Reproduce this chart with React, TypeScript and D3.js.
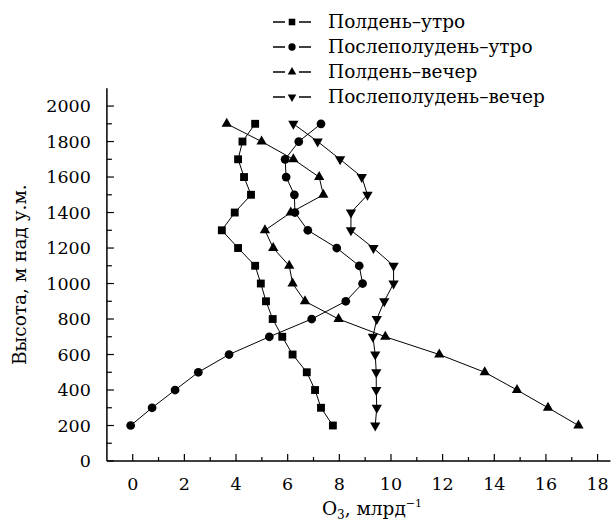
import React from 'react';
import * as d3 from 'd3';

// высоты, м (снизу вверх)
const heights = [200, 300, 400, 500, 600, 700, 800, 900, 1000, 1100, 1200, 1300, 1400, 1500, 1600, 1700, 1800, 1900];

// O3, млрд^-1
const noonMorning = [7.75, 7.29, 7.06, 6.74, 6.19, 5.79, 5.42, 5.16, 4.96, 4.74, 4.08, 3.45, 3.95, 4.58, 4.31, 4.08, 4.25, 4.74];
const afternoonMorning = [-0.08, 0.75, 1.64, 2.54, 3.73, 5.29, 6.93, 8.25, 8.9, 8.77, 7.9, 6.78, 6.28, 6.26, 5.94, 5.9, 6.43, 7.29];
const noonEvening = [17.26, 16.08, 14.88, 13.63, 11.87, 9.78, 7.97, 6.67, 6.19, 6.06, 5.44, 5.12, 6.12, 7.38, 7.22, 6.22, 4.99, 3.64];
const afternoonEvening = [9.39, 9.45, 9.43, 9.43, 9.39, 9.3, 9.45, 9.74, 10.1, 10.1, 9.32, 8.45, 8.45, 9.09, 8.87, 8.03, 7.16, 6.22];

const seriesNames = ['Полдень–утро', 'Послеполудень–утро', 'Полдень–вечер', 'Послеполудень–вечер'];
const xTicks = [0, 2, 4, 6, 8, 10, 12, 14, 16, 18];
const xMinor = [1, 3, 5, 7, 9, 11, 13, 15, 17];
const yTicks = [0, 200, 400, 600, 800, 1000, 1200, 1400, 1600, 1800, 2000];
const yMinor = [100, 300, 500, 700, 900, 1100, 1300, 1500, 1700, 1900];

const W = 612;
const H = 522;
const FONT = '"DejaVu Serif", serif';

export default function App() {
  const x = d3.scaleLinear().domain([-1, 18.5]).range([106.9, 610.5]);
  const y = d3.scaleLinear().domain([0, 2100]).range([461, 88.3]);

  const series = [
    { name: seriesNames[0], values: noonMorning, shape: d3.symbolSquare, size: 62, rot: 0 },
    { name: seriesNames[1], values: afternoonMorning, shape: d3.symbolCircle, size: 60, rot: 0 },
    { name: seriesNames[2], values: noonEvening, shape: d3.symbolTriangle, size: 46, rot: 0 },
    { name: seriesNames[3], values: afternoonEvening, shape: d3.symbolTriangle, size: 46, rot: 180 },
  ];

  const line = d3.line<number>()
    .x(d => x(d))
    .y((d, i) => y(heights[i]));

  const x0 = x.range()[0];
  const y0 = y(0);

  return (
    <svg width={W} height={H} style={{ position: 'absolute', left: 0, top: 0, background: '#fff' }}
      fontFamily={FONT}>
      <rect width={W} height={H} fill="#fff" />

      {/* оси */}
      <line x1={x0} x2={x.range()[1]} y1={y0} y2={y0} stroke="#000" strokeWidth={1.5} />
      <line x1={x0} x2={x0} y1={y0} y2={y.range()[1]} stroke="#000" strokeWidth={1.5} />

      {xTicks.map(t => (
        <g key={'xt' + t}>
          <line x1={x(t)} x2={x(t)} y1={y0} y2={y0 - 7} stroke="#000" strokeWidth={1.2} />
          <text x={x(t)} y={y0 + 29} textAnchor="middle" fontSize={17.5}>{t}</text>
        </g>
      ))}
      {xMinor.map(t => (
        <line key={'xm' + t} x1={x(t)} x2={x(t)} y1={y0} y2={y0 - 4} stroke="#000" strokeWidth={1.2} />
      ))}
      {yTicks.map(t => (
        <g key={'yt' + t}>
          <line x1={x0} x2={x0 + 7} y1={y(t)} y2={y(t)} stroke="#000" strokeWidth={1.2} />
          <text x={x0 - 16} y={y(t) + 6} textAnchor="end" fontSize={17.5}>{t}</text>
        </g>
      ))}
      {yMinor.map(t => (
        <line key={'ym' + t} x1={x0} x2={x0 + 5} y1={y(t)} y2={y(t)} stroke="#000" strokeWidth={1.2} />
      ))}

      {/* подписи осей */}
      <text transform={`translate(26, ${y(1050)}) rotate(-90)`} textAnchor="middle" fontSize={18.5}>
        Высота, м над у.м.
      </text>
      <text x={372} y={515} textAnchor="middle" fontSize={18.5}>
        O<tspan fontSize={12} dy={4}>3</tspan><tspan dy={-4}>, млрд</tspan><tspan fontSize={11} dy={-8}>−1</tspan>
      </text>

      {/* ряды */}
      {series.map(s => (
        <g key={s.name}>
          <path d={line(s.values) || ''} fill="none" stroke="#000" strokeWidth={1} />
          {s.values.map((v, i) => (
            <path key={i}
              d={d3.symbol().type(s.shape).size(s.size)() || ''}
              transform={`translate(${x(v)},${y(heights[i])}) rotate(${s.rot})`}
              fill="#000" />
          ))}
        </g>
      ))}

      {/* легенда */}
      {series.map((s, i) => {
        const ly = 22 + i * 25;
        return (
          <g key={'lg' + i}>
            <line x1={273} x2={285} y1={ly} y2={ly} stroke="#000" strokeWidth={1.5} />
            <line x1={299} x2={311} y1={ly} y2={ly} stroke="#000" strokeWidth={1.5} />
            <path d={d3.symbol().type(s.shape).size(s.size * 0.7)() || ''}
              transform={`translate(292,${ly}) rotate(${s.rot})`} fill="#000" />
            <text x={328} y={ly + 6} fontSize={18.5}>{s.name}</text>
          </g>
        );
      })}
    </svg>
  );
}
